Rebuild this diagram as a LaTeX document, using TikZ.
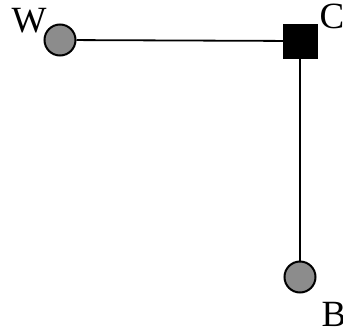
\documentclass[tikz,border=0pt]{standalone}
\usepackage{fontspec}
\setmainfont{Liberation Serif}
\begin{document}
\begin{tikzpicture}[x=1pt,y=-1pt,
  site/.style={circle,draw=black,line width=2pt,fill=black!45,minimum size=31pt,inner sep=0pt},
  hub/.style={rectangle,draw=black,fill=black,minimum size=34pt,inner sep=0pt},
  lbl/.style={font=\fontsize{37}{37}\selectfont,inner sep=0pt},
  link/.style={line width=1.8pt}]
\useasboundingbox (0,0) rectangle (343,327);
\node[site] (w) at (60,40) {};
\node[hub] (c) at (300,41) {};
\node[site] (b) at (300,277) {};
\draw[link] (w) -- (c);
\draw[link] (c) -- (b);
\node[lbl,anchor=base] (wl) at (29,32) {W};
\node[lbl,anchor=base] (cl) at (332,28) {C};
\node[lbl,anchor=base] (bl) at (334,326) {B};
\end{tikzpicture}
\end{document}
